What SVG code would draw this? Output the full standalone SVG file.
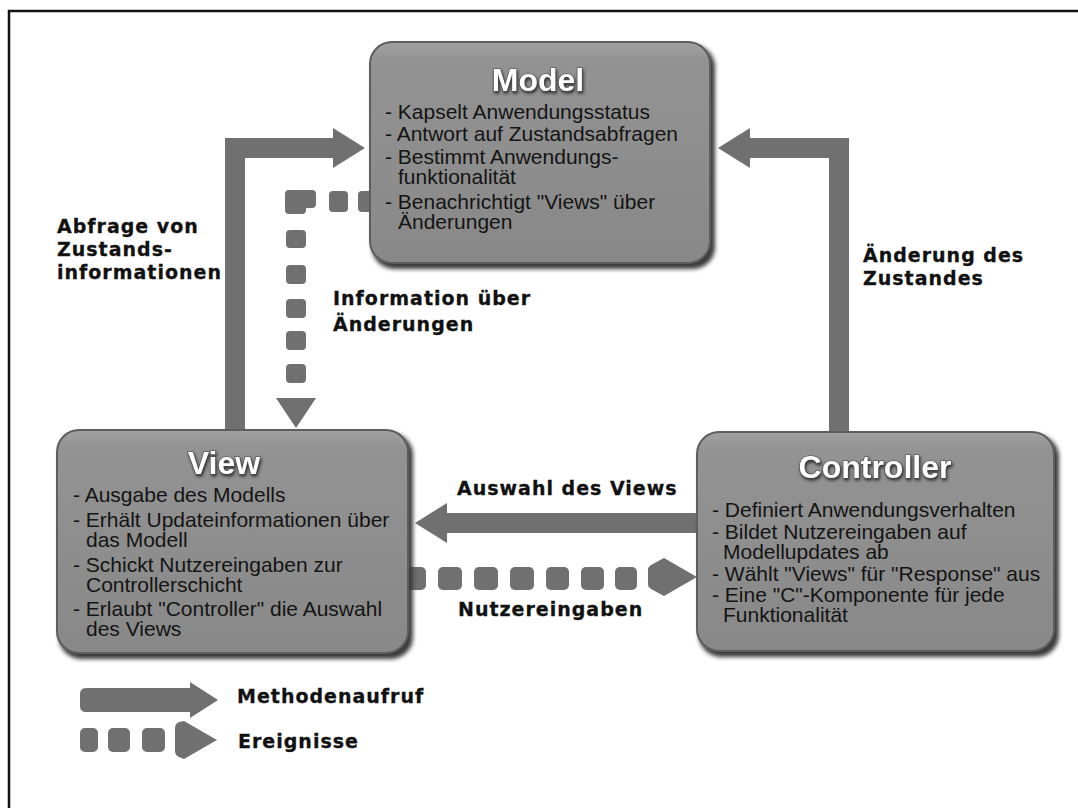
<svg xmlns="http://www.w3.org/2000/svg" width="1078" height="808" viewBox="0 0 1078 808">
  <defs>
    <style>
      .box { fill: url(#boxGrad); stroke: #5e5e5e; stroke-width: 2; }
      .shadow { fill: #3a3a3a; filter: url(#blur); }
      .title { font-family: "Liberation Sans", Arial, sans-serif; font-weight: bold; font-size: 32px; fill: #ffffff; stroke: #4a4a4a; stroke-width: 1.2; paint-order: stroke; text-anchor: middle; filter: url(#tshadow); }
      .txt { font-family: "Liberation Sans", Arial, sans-serif; font-size: 21px; fill: #141414; }
      .lbl { font-family: "DejaVu Sans", Verdana, sans-serif; font-weight: bold; font-size: 19px; letter-spacing: 1px; fill: #111111; stroke: #111111; stroke-width: 0.3; }
      .shaft { fill: none; stroke: #707070; stroke-width: 20; stroke-linejoin: miter; }
      .head { fill: #707070; }
      .dot { fill: #707070; }
    </style>
    <linearGradient id="boxGrad" x1="0" y1="0" x2="0" y2="1">
      <stop offset="0" stop-color="#a2a2a2"/>
      <stop offset="0.08" stop-color="#939393"/>
      <stop offset="1" stop-color="#888888"/>
    </linearGradient>
    <filter id="blur" x="-10%" y="-10%" width="120%" height="120%">
      <feGaussianBlur stdDeviation="2"/>
    </filter>
    <filter id="tshadow" x="-20%" y="-30%" width="140%" height="160%">
      <feDropShadow dx="1" dy="2" stdDeviation="1.5" flood-color="#222222" flood-opacity="0.9"/>
    </filter>
    <marker id="arrowSolid" viewBox="0 0 32 40" refX="0" refY="20" markerWidth="32" markerHeight="40" markerUnits="userSpaceOnUse" orient="auto">
      <path d="M0,0 L32,20 L0,40 Z" fill="#707070"/>
    </marker>
  </defs>

  <rect x="0" y="0" width="1078" height="808" fill="#ffffff"/>
  <path d="M9,808 L9,11 L1078,11" fill="none" stroke="#111111" stroke-width="2.5"/>

  <g id="connectors">
    <!-- Abfrage von Zustandsinformationen: View -> Model -->
    <path class="shaft" d="M235,432 L235,148 L333,148" marker-end="url(#arrowSolid)"/>
    <!-- Aenderung des Zustandes: Controller -> Model -->
    <path class="shaft" d="M839,434 L839,148 L750,148" marker-end="url(#arrowSolid)"/>
    <!-- Auswahl des Views: Controller -> View -->
    <path class="shaft" d="M699,523 L447,523" marker-end="url(#arrowSolid)"/>

    <!-- Information ueber Aenderungen: Model -> View (events) -->
    <g id="evt-info">
      <rect class="dot" x="358" y="191" width="20" height="21" rx="4"/>
      <rect class="dot" x="329" y="191" width="19" height="21" rx="4"/>
      <path class="dot" d="M289,190 L312,190 Q316,190 316,194 L316,204 Q316,208 312,208 L306,208 L306,210 Q306,214 302,214 L289,214 Q285,214 285,210 L285,194 Q285,190 289,190 Z"/>
      <rect class="dot" x="286" y="230" width="20" height="18" rx="4"/>
      <rect class="dot" x="286" y="265" width="20" height="19" rx="4"/>
      <rect class="dot" x="286" y="299" width="20" height="19" rx="4"/>
      <rect class="dot" x="286" y="331" width="20" height="19" rx="4"/>
      <rect class="dot" x="286" y="364" width="20" height="19" rx="4"/>
      <path class="head" d="M276,398 L316,398 L296,428 Z"/>
    </g>

    <!-- Nutzereingaben: View -> Controller (events) -->
    <g id="evt-input">
      <rect class="dot" x="404" y="567" width="22" height="23" rx="5"/>
      <rect class="dot" x="438" y="567" width="24" height="23" rx="5"/>
      <rect class="dot" x="474" y="567" width="24" height="23" rx="5"/>
      <rect class="dot" x="510" y="567" width="24" height="23" rx="5"/>
      <rect class="dot" x="546" y="567" width="23" height="23" rx="5"/>
      <rect class="dot" x="581" y="567" width="23" height="23" rx="5"/>
      <rect class="dot" x="615" y="567" width="22" height="23" rx="5"/>
      <path class="head" d="M648,569 Q648,567 651,565 L664,558 L697,577 L664,596 L651,589 Q648,587 648,585 Z"/>
    </g>
  </g>

  <g id="model">
    <rect class="shadow" x="372" y="45" width="343" height="224" rx="22"/>
    <rect class="box" x="370" y="42" width="340" height="221" rx="22"/>
    <text class="title" x="538" y="91">Model</text>
    <text class="txt" x="385" y="119">- Kapselt Anwendungsstatus</text>
    <text class="txt" x="385" y="141">- Antwort auf Zustandsabfragen</text>
    <text class="txt" x="385" y="164">- Bestimmt Anwendungs-</text>
    <text class="txt" x="398" y="184">funktionalität</text>
    <text class="txt" x="385" y="209">- Benachrichtigt "Views" über</text>
    <text class="txt" x="398" y="229">Änderungen</text>
  </g>

  <g id="view">
    <rect class="shadow" x="59" y="433" width="354" height="226" rx="22"/>
    <rect class="box" x="57" y="430" width="351" height="223" rx="22"/>
    <text class="title" x="224" y="474">View</text>
    <text class="txt" x="73" y="502">- Ausgabe des Modells</text>
    <text class="txt" x="73" y="527">- Erhält Updateinformationen über</text>
    <text class="txt" x="86" y="547">das Modell</text>
    <text class="txt" x="73" y="572">- Schickt Nutzereingaben zur</text>
    <text class="txt" x="86" y="592">Controllerschicht</text>
    <text class="txt" x="73" y="616">- Erlaubt "Controller" die Auswahl</text>
    <text class="txt" x="86" y="636">des Views</text>
  </g>

  <g id="controller">
    <rect class="shadow" x="699" y="435" width="360" height="222" rx="22"/>
    <rect class="box" x="697" y="432" width="357" height="219" rx="22"/>
    <text class="title" x="875" y="478">Controller</text>
    <text class="txt" x="712" y="517">- Definiert Anwendungsverhalten</text>
    <text class="txt" x="712" y="539">- Bildet Nutzereingaben auf</text>
    <text class="txt" x="723" y="559">Modellupdates ab</text>
    <text class="txt" x="712" y="581">- Wählt "Views" für "Response" aus</text>
    <text class="txt" x="712" y="602">- Eine "C"-Komponente für jede</text>
    <text class="txt" x="723" y="622">Funktionalität</text>
  </g>

  <g id="labels">
    <text class="lbl" x="57" y="233">Abfrage von</text>
    <text class="lbl" x="57" y="256">Zustands-</text>
    <text class="lbl" x="57" y="279">informationen</text>
    <text class="lbl" x="333" y="305">Information über</text>
    <text class="lbl" x="333" y="331">Änderungen</text>
    <text class="lbl" x="863" y="262">Änderung des</text>
    <text class="lbl" x="863" y="285">Zustandes</text>
    <text class="lbl" x="457" y="495">Auswahl des Views</text>
    <text class="lbl" x="458" y="616">Nutzereingaben</text>
  </g>

  <g id="legend">
    <path d="M86,688 L190,688 L190,682 L218,700 L190,718 L190,712 L86,712 Q80,712 80,706 L80,694 Q80,688 86,688 Z" fill="#707070"/>
    <text class="lbl" x="237" y="703">Methodenaufruf</text>
    <rect class="dot" x="80" y="728" width="18" height="24" rx="5"/>
    <rect class="dot" x="108" y="728" width="22" height="24" rx="5"/>
    <rect class="dot" x="142" y="728" width="23" height="24" rx="5"/>
    <path class="head" d="M175,728 Q175,724 179,722 L184,721 L217,740 L184,759 L179,757 Q175,755 175,751 Z"/>
    <text class="lbl" x="238" y="748">Ereignisse</text>
  </g>
</svg>
